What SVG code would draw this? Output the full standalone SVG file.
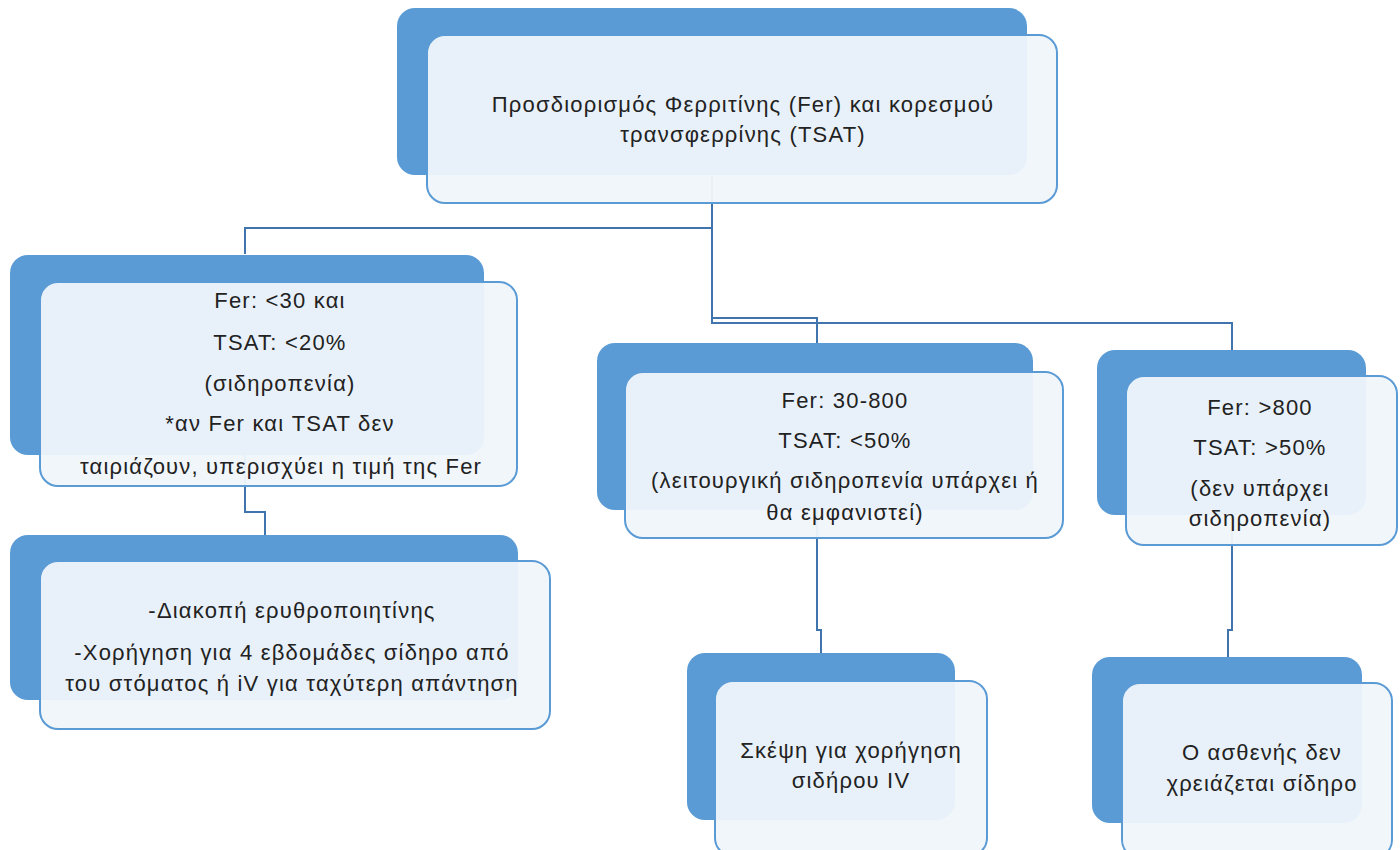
<svg xmlns="http://www.w3.org/2000/svg" width="1400" height="850" viewBox="0 0 1400 850">
<style>
.back{fill:#5b9bd5;}
.front{fill:#f0f5fb;fill-opacity:0.95;stroke:#5b9bd5;stroke-width:2;}
.t{font-family:"Liberation Sans",Arial,sans-serif;font-size:22px;letter-spacing:1.2px;fill:#222;text-anchor:middle;}
.c{fill:none;stroke:#3f74ad;stroke-width:2;}
</style>
<rect width="1400" height="850" fill="#ffffff"/>
<g id="connectors">
<path class="c" d="M712,175 V228 H245 V254"/>
<path class="c" d="M712,228 V318 H817 V343"/>
<path class="c" d="M712,318 V323 H1232 V350"/>
<path class="c" d="M245,455 V512 H265 V535"/>
<path class="c" d="M817,510 V630 H821 V653"/>
<path class="c" d="M1232,515 V630 H1228 V657"/>
</g>
<g id="node-top">
<rect class="back" x="397" y="8" width="630" height="167" rx="18"/>
<rect class="front" x="427" y="35" width="630" height="168" rx="18"/>
<text class="t" x="743" y="112">Προσδιορισμός Φερριτίνης (Fer) και κορεσμού</text>
<text class="t" x="743" y="142">τρανσφερρίνης (TSAT)</text>
</g>
<g id="node-low">
<rect class="back" x="10" y="255" width="474" height="200" rx="18"/>
<rect class="front" x="40" y="282" width="477" height="204" rx="18"/>
<text class="t" x="280" y="308">Fer: &lt;30 και</text>
<text class="t" x="280" y="350">TSAT: &lt;20%</text>
<text class="t" x="280" y="391">(σιδηροπενία)</text>
<text class="t" x="280" y="431">*αν Fer και TSAT δεν</text>
<text class="t" x="281" y="474">ταιριάζουν, υπερισχύει η τιμή της Fer</text>
</g>
<g id="node-mid">
<rect class="back" x="597" y="343" width="436" height="167" rx="18"/>
<rect class="front" x="625" y="372" width="438" height="166" rx="18"/>
<text class="t" x="845" y="408">Fer: 30-800</text>
<text class="t" x="845" y="448">TSAT: &lt;50%</text>
<text class="t" x="845" y="488">(λειτουργική σιδηροπενία υπάρχει ή</text>
<text class="t" x="845" y="520">θα εμφανιστεί)</text>
</g>
<g id="node-high">
<rect class="back" x="1097" y="350" width="269" height="165" rx="18"/>
<rect class="front" x="1126" y="376" width="271" height="169" rx="18"/>
<text class="t" x="1260" y="415">Fer: &gt;800</text>
<text class="t" x="1260" y="455">TSAT: &gt;50%</text>
<text class="t" x="1260" y="496">(δεν υπάρχει</text>
<text class="t" x="1260" y="526">σιδηροπενία)</text>
</g>
<g id="node-treat-low">
<rect class="back" x="10" y="535" width="508" height="165" rx="18"/>
<rect class="front" x="40" y="561" width="510" height="168" rx="18"/>
<text class="t" x="292" y="618">-Διακοπή ερυθροποιητίνης</text>
<text class="t" x="292" y="660">-Χορήγηση για 4 εβδομάδες σίδηρο από</text>
<text class="t" x="292" y="691">του στόματος ή iV για ταχύτερη απάντηση</text>
</g>
<g id="node-treat-mid">
<rect class="back" x="687" y="653" width="268" height="167" rx="18"/>
<rect class="front" x="715" y="681" width="272" height="175" rx="18"/>
<text class="t" x="851" y="758">Σκέψη για χορήγηση</text>
<text class="t" x="851" y="788">σιδήρου IV</text>
</g>
<g id="node-treat-high">
<rect class="back" x="1092" y="657" width="270" height="166" rx="18"/>
<rect class="front" x="1122" y="683" width="270" height="175" rx="18"/>
<text class="t" x="1262" y="760">Ο ασθενής δεν</text>
<text class="t" x="1262" y="791">χρειάζεται σίδηρο</text>
</g>
</svg>
